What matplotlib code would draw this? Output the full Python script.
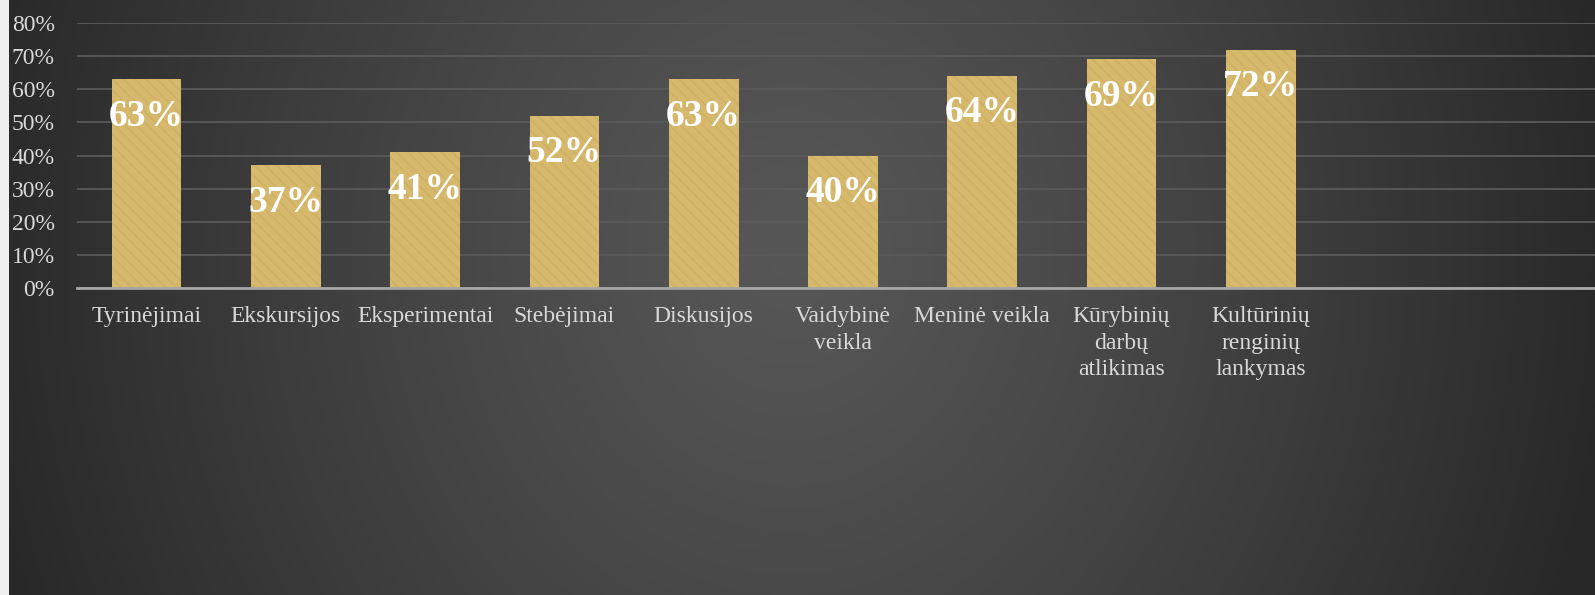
import numpy as np
import matplotlib
matplotlib.use("Agg")
import matplotlib.pyplot as plt
from matplotlib.ticker import PercentFormatter

# chart data
categories = ["Tyrinėjimai", "Ekskursijos", "Eksperimentai", "Stebėjimai",
              "Diskusijos", "Vaidybinė\nveikla", "Meninė veikla",
              "Kūrybinių\ndarbų\natlikimas", "Kultūrinių\nrenginių\nlankymas"]
values = [0.63, 0.37, 0.41, 0.52, 0.63, 0.40, 0.64, 0.69, 0.72]
yticks = [0, 0.1, 0.2, 0.3, 0.4, 0.5, 0.6, 0.7, 0.8]

plt.rcParams['font.family'] = ['Liberation Serif', 'DejaVu Serif']
plt.rcParams['hatch.linewidth'] = 1.3

W, H = 1595, 595
fig = plt.figure(figsize=(W / 100, H / 100), dpi=100)

# dark background, lighter band through the middle
bg = fig.add_axes([0, 0, 1, 1])
yy, xx = np.mgrid[0:H, 0:W]
d = np.sqrt(((xx - 790) / 780.0) ** 2 + ((yy - 250) / 900.0) ** 2)
shade = np.clip(0.34 - 0.17 * d ** 1.2, 0.16, 0.34)
img = np.dstack([shade, shade, shade])
img[:, :9, :] = 0.94
bg.imshow(img, aspect='auto', extent=[0, 1, 0, 1], origin='upper')
bg.axis('off')

ax = fig.add_axes([77 / W, 1 - 288 / H, 1 - 77 / W, (288 - 23) / H])
ax.set_facecolor('none')
x = np.arange(len(categories))
bars = ax.bar(x, values, width=0.5, color='#d6b96c', edgecolor='#d0b266',
              hatch='\\\\\\', linewidth=0, zorder=3)

for xi, v in zip(x, values):
    ax.annotate(f"{round(v * 100)}%", (xi, v), xytext=(0, -37),
                textcoords='offset pixels', ha='center', va='center',
                color='white', fontsize=27, fontweight='bold', zorder=5)

ax.set_xlim(-0.5, 10.4)
ax.set_ylim(0, 0.8)
ax.set_yticks(yticks)
ax.yaxis.set_major_formatter(PercentFormatter(1.0, decimals=0))
ax.set_xticks(x)
ax.set_xticklabels(categories, linespacing=1.35)
ax.grid(axis='y', color='#5a5a5a', linewidth=1.3, zorder=0)
ax.tick_params(axis='both', length=0, colors='#d9d9d9', labelsize=17)
ax.tick_params(axis='y', pad=16)
ax.tick_params(axis='x', pad=13)
for s in ['top', 'right', 'left']:
    ax.spines[s].set_visible(False)
ax.spines['bottom'].set_color('#a6a6a6')
ax.spines['bottom'].set_linewidth(2)
ax.spines['bottom'].set_zorder(4)

fig.savefig("out.png", dpi=100)
